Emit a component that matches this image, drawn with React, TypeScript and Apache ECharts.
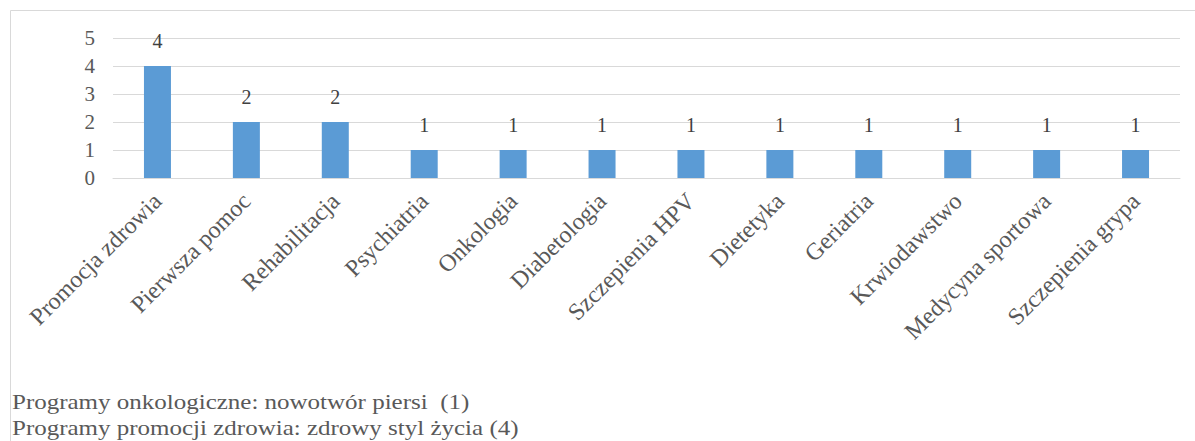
import React, { useEffect, useRef } from "react";
import * as echarts from "echarts";

const categories = [
  "Promocja zdrowia",
  "Pierwsza pomoc",
  "Rehabilitacja",
  "Psychiatria",
  "Onkologia",
  "Diabetologia",
  "Szczepienia HPV",
  "Dietetyka",
  "Geriatria",
  "Krwiodawstwo",
  "Medycyna sportowa",
  "Szczepienia grypa",
];
const values = [4, 2, 2, 1, 1, 1, 1, 1, 1, 1, 1, 1];
const footnotes = [
  "Programy onkologiczne: nowotwór piersi  (1)",
  "Programy promocji zdrowia: zdrowy styl życia (4)",
];

const FONT = "Liberation Serif";

export default function App() {
  const ref = useRef<HTMLDivElement>(null);
  useEffect(() => {
    if (!ref.current) return;
    const chart = echarts.init(ref.current, null, { renderer: "svg" });
    chart.setOption({
      animation: false,
      textStyle: { fontFamily: FONT },
      grid: { left: 113, right: 15, top: 38, bottom: 263, containLabel: false },
      xAxis: {
        type: "category",
        data: categories,
        axisLine: { show: true, lineStyle: { color: "#d9d9d9", width: 1 } },
        axisTick: { show: false },
        axisLabel: {
          interval: 0,
          rotate: 45,
          margin: 19,
          color: "#595959",
          fontFamily: FONT,
          fontSize: 24,
        },
      },
      yAxis: {
        type: "value",
        min: 0,
        max: 5,
        interval: 1,
        axisLine: { show: false },
        axisTick: { show: false },
        splitLine: { lineStyle: { color: "#d9d9d9", width: 1 } },
        axisLabel: {
          margin: 18,
          color: "#595959",
          fontFamily: FONT,
          fontSize: 21,
        },
      },
      series: [
        {
          type: "bar",
          data: values,
          barWidth: 27,
          itemStyle: { color: "#5b9bd5" },
          label: {
            show: true,
            position: "top",
            distance: 15,
            color: "#404040",
            fontFamily: FONT,
            fontSize: 20,
          },
        },
      ],
      graphic: [
        {
          type: "line",
          shape: { x1: 10.5, y1: 10.5, x2: 1195, y2: 10.5 },
          style: { stroke: "#d9d9d9", lineWidth: 1 },
        },
        {
          type: "line",
          shape: { x1: 10.5, y1: 10.5, x2: 10.5, y2: 441 },
          style: { stroke: "#d9d9d9", lineWidth: 1 },
        },
        ...footnotes.map((t, i) => ({
          type: "text",
          x: 12,
          y: 402 + i * 26,
          scaleX: 1.19,
          style: {
            text: t,
            fill: "#595959",
            fontFamily: FONT,
            fontSize: 21,
            verticalAlign: "middle",
            align: "left",
          },
        })),
      ],
    });
    return () => chart.dispose();
  }, []);
  return (
    <div
      ref={ref}
      style={{ position: "absolute", left: 0, top: 0, width: 1195, height: 441, background: "#fff" }}
    />
  );
}
